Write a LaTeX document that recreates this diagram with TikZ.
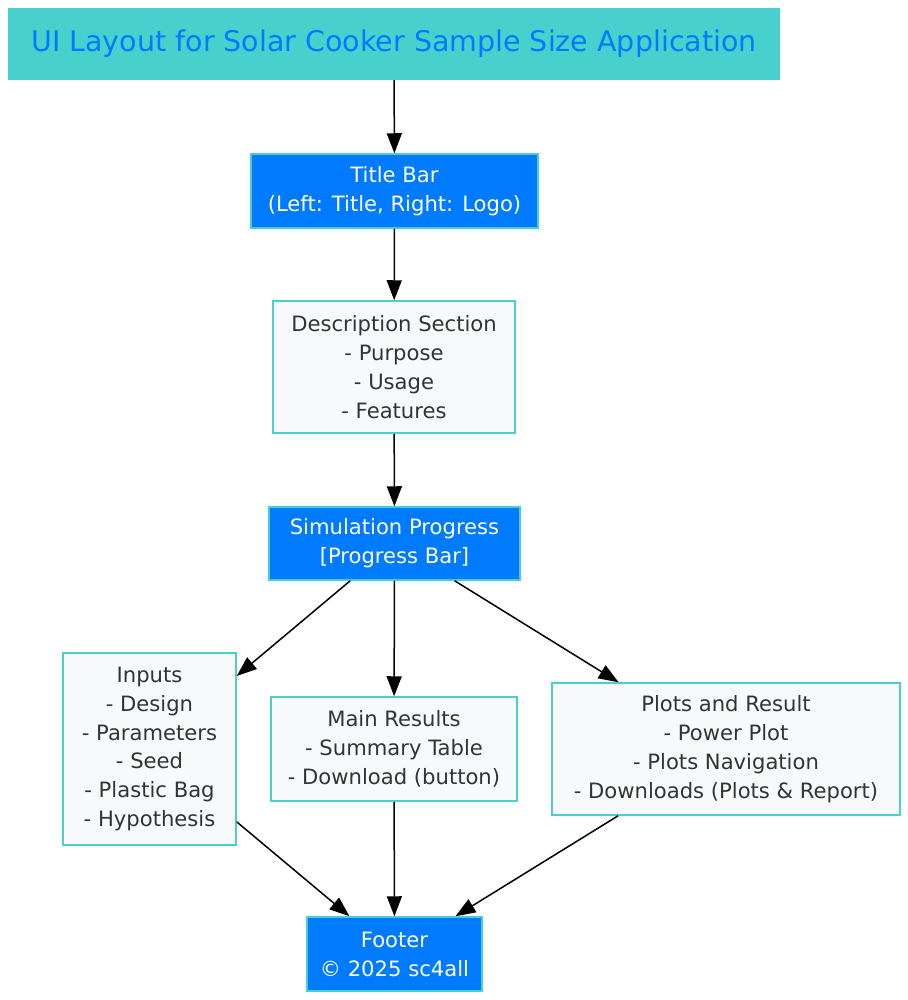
\documentclass[tikz,border=0pt]{standalone}
\usepackage{fontspec}
\setmainfont{DejaVu Sans}
\usetikzlibrary{positioning,arrows.meta}
\definecolor{turq}{HTML}{48D1CC}
\definecolor{uiblue}{HTML}{007BFF}
\definecolor{uigray}{HTML}{F8F9FA}
\definecolor{uitext}{HTML}{333333}

\begin{document}
\begin{tikzpicture}[x=1bp,y=-1bp,
    box/.style={draw=turq,line width=1.5bp,align=center,inner sep=0pt,font=\fontsize{21.2}{29}\selectfont},
    dark/.style={box,fill=uiblue,text=white},
    light/.style={box,fill=uigray,text=uitext},
    edge/.style={-{Triangle[length=20bp,width=15bp]},line width=1.5bp}]
  \useasboundingbox (0,0) rectangle (908,1000);
  % header
  \node [fill=turq,text=uiblue,minimum width=772bp,minimum height=72bp,inner sep=0pt,
         font=\fontsize{28.6}{32}\selectfont] (title) at (394,44)
         {UI Layout for Solar Cooker Sample Size Application};
  \node [dark,minimum width=287bp,minimum height=74bp] (titlebar) at (394.5,191)
         {Title Bar\\(Left: Title, Right: Logo)};
  \node [light,minimum width=242bp,minimum height=132bp] (desc) at (394,367)
         {Description Section\\- Purpose\\- Usage\\- Features};
  \node [dark,minimum width=251bp,minimum height=73bp] (progress) at (394.5,543.5)
         {Simulation Progress\\{[Progress Bar]}};
  % three panels
  \node [light,minimum width=173bp,minimum height=192bp] (inputs) at (149.5,749)
         {Inputs\\- Design\\- Parameters\\- Seed\\- Plastic Bag\\- Hypothesis};
  \node [light,minimum width=246bp,minimum height=104bp] (results) at (394,749)
         {Main Results\\- Summary Table\\- Download (button)};
  \node [light,minimum width=348bp,minimum height=132bp] (plots) at (726,749)
         {Plots and Result\\- Power Plot\\- Plots Navigation\\- Downloads (Plots \& Report)};
  \node [dark,minimum width=175bp,minimum height=74bp] (footer) at (394.5,954)
         {Footer\\© 2025 sc4all};

  \draw [edge] (title) -- (titlebar);
  \draw [edge] (titlebar) -- (desc);
  \draw [edge] (desc) -- (progress);
  \draw [edge] (progress) -- (inputs);
  \draw [edge] (progress) -- (results);
  \draw [edge] (progress) -- (plots);
  \draw [edge] (inputs) -- (footer);
  \draw [edge] (results) -- (footer);
  \draw [edge] (plots) -- (footer);
\end{tikzpicture}
\end{document}
